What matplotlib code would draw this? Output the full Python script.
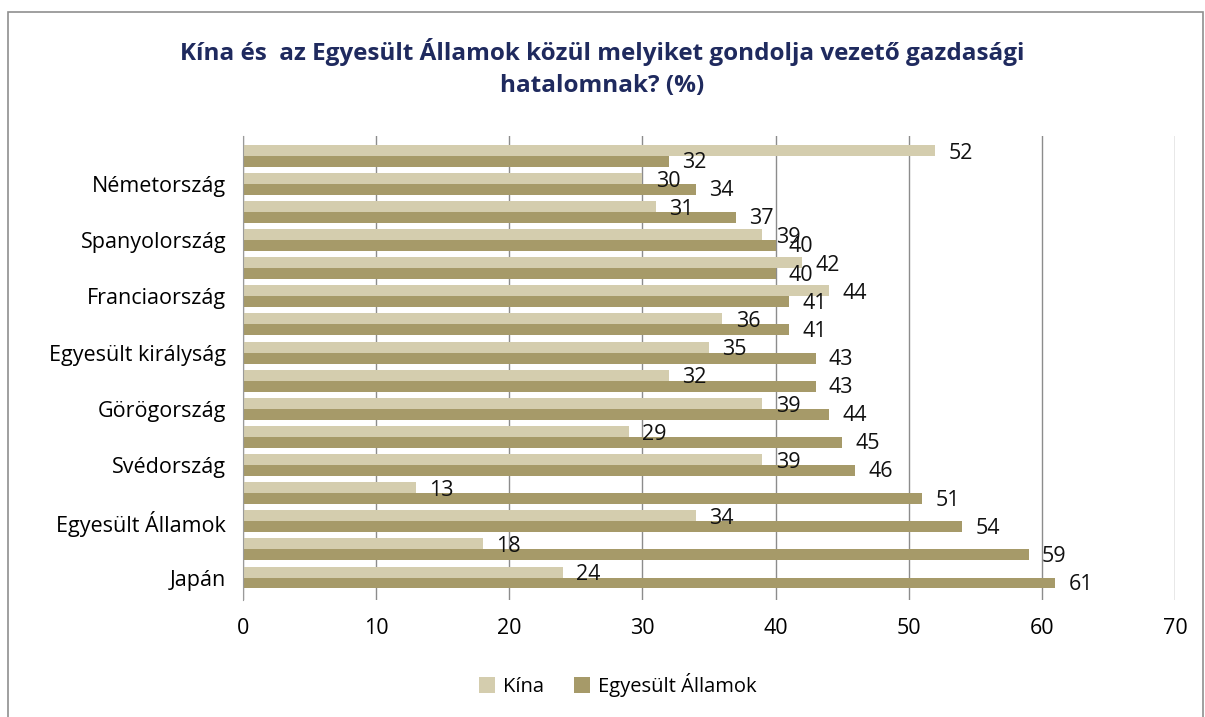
import matplotlib
matplotlib.use("Agg")
import matplotlib.pyplot as plt
from matplotlib.patches import Rectangle
import numpy as np

plt.rcParams['font.family'] = ['Open Sans', 'DejaVu Sans']

# 16 categories, top to bottom; only every other one is labelled in the original
categories = ["", "Németország", "", "Spanyolország", "", "Franciaország", "",
              "Egyesült királyság", "", "Görögország", "", "Svédország", "",
              "Egyesült Államok", "", "Japán"]
kina = [52, 30, 31, 39, 42, 44, 36, 35, 32, 39, 29, 39, 13, 34, 18, 24]
usa = [32, 34, 37, 40, 40, 41, 41, 43, 43, 44, 45, 46, 51, 54, 59, 61]
series_names = ["Kína", "Egyesült Államok"]
xticks = [0, 10, 20, 30, 40, 50, 60, 70]
title = "Kína és  az Egyesült Államok közül melyiket gondolja vezető gazdasági\nhatalomnak? (%)"

c_kina = "#D4CDAE"
c_usa = "#A69A69"

fig = plt.figure(figsize=(12.05, 7.17), dpi=100)
ax = fig.add_axes([243/1205, 1-600/717, (1175-243)/1205, (600-136)/717])

n = len(categories)
y = np.arange(n)
h = 0.39
ax.barh(y - h/2, kina, height=h, color=c_kina, label=series_names[0], zorder=2)
ax.barh(y + h/2, usa, height=h, color=c_usa, label=series_names[1], zorder=2)

for yi, v in zip(y, kina):
    ax.text(v + 1.0, yi - h/2 + 0.1, str(v), va='center', ha='left', fontsize=15.5, color='#111111', zorder=3)
for yi, v in zip(y, usa):
    ax.text(v + 1.0, yi + h/2 + 0.05, str(v), va='center', ha='left', fontsize=15.5, color='#111111', zorder=3)

ax.set_ylim(n - 0.2, -0.7)
ax.set_xlim(0, 70)
ax.set_xticks(xticks)
ax.set_xticklabels([str(t) for t in xticks], fontsize=15.5)
ax.set_yticks(y)
ax.set_yticklabels(categories, fontsize=15.5)
ax.tick_params(axis='y', length=0, pad=12)
ax.tick_params(axis='x', length=0, pad=13)
ax.grid(axis='x', color='#8C8C8C', linewidth=1.0, zorder=1)
for s in ['top', 'right', 'bottom']:
    ax.spines[s].set_visible(False)
ax.spines['left'].set_color('#9A9A9A')

fig.text(0.5, 1-68/717, title, ha='center', va='center', fontsize=17.5, fontweight='bold',
         color='#1F2A5E', linespacing=1.45)

leg = fig.legend(loc='center', bbox_to_anchor=(618/1205, 1-685/717), ncol=2, frameon=False,
                 fontsize=14.5, handlelength=0.8, handleheight=0.8, handletextpad=0.4, columnspacing=1.5)

fig.patches.append(Rectangle((8/1205, -0.01), (1203-8)/1205, 1-12/717 + 0.01, transform=fig.transFigure,
                             fill=False, edgecolor='#8F8F8F', linewidth=1.2))

fig.savefig("out.png", dpi=100)
